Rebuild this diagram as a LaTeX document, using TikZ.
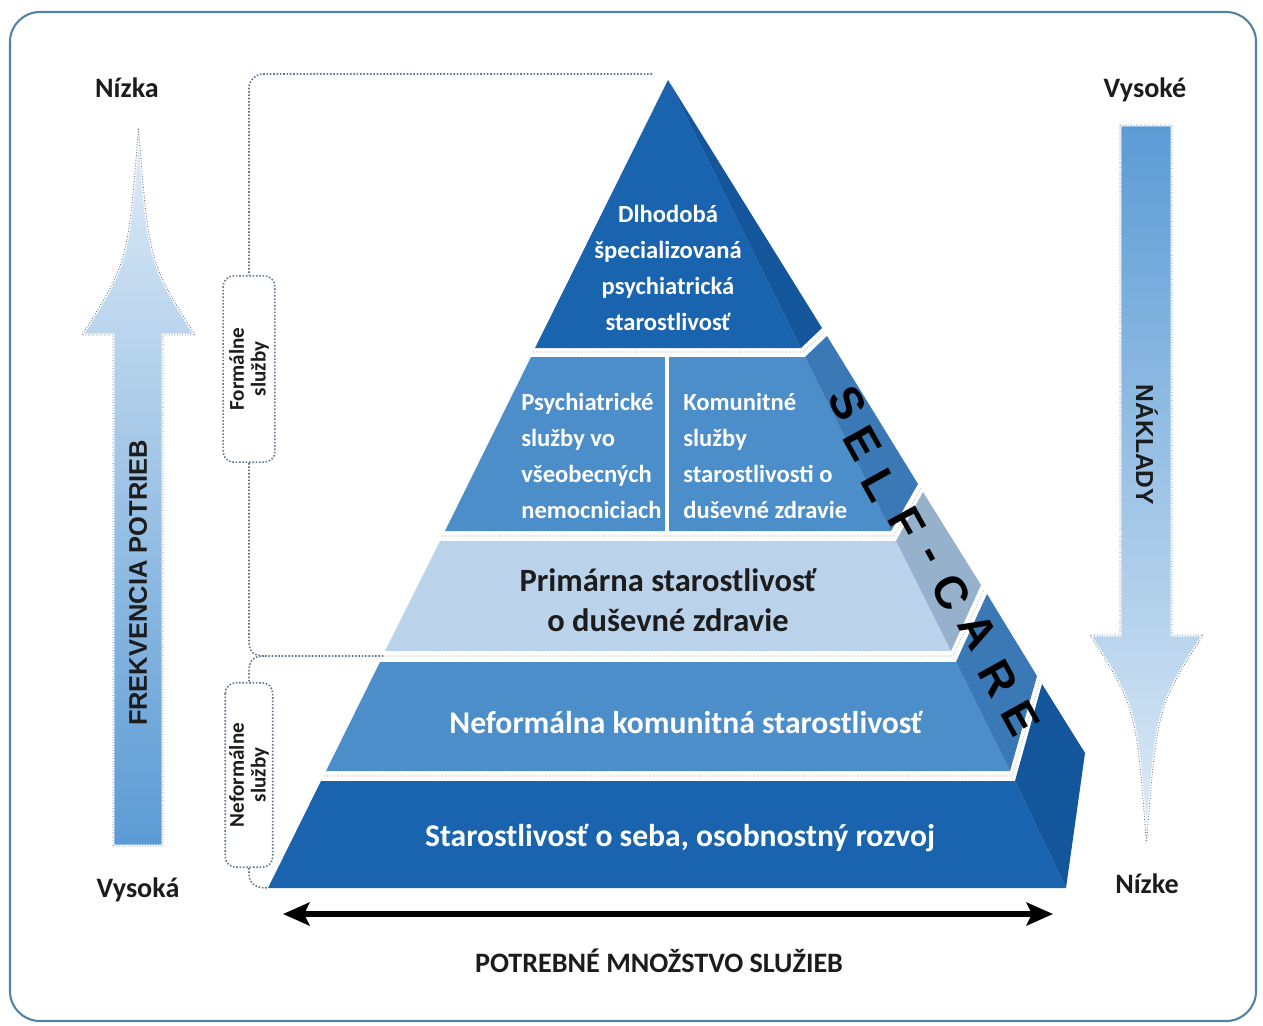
\documentclass[tikz,border=0pt]{standalone}
\usepackage{fontspec}
\setmainfont{Carlito}
\setsansfont{Liberation Sans}
\usetikzlibrary{arrows.meta}
\usetikzlibrary{backgrounds}
\definecolor{dk1}{RGB}{26,100,175}
\definecolor{dk2}{RGB}{19,86,156}
\definecolor{md1}{RGB}{76,142,202}
\definecolor{md2}{RGB}{58,120,182}
\definecolor{lt1}{RGB}{186,211,235}
\definecolor{lt2}{RGB}{150,177,204}
\definecolor{ar1}{RGB}{224,236,247}
\definecolor{ar2}{RGB}{91,155,213}
\definecolor{fr1}{RGB}{84,130,165}
\definecolor{br1}{RGB}{98,118,148}
\definecolor{tx1}{RGB}{28,28,28}

\begin{document}
\begin{tikzpicture}[
    x=0.02cm, y=-0.02cm,
    font=\bfseries,
    tw/.style={
        text=white, inner sep=0pt,
        font=\bfseries\fontsize{14}{20.4}\selectfont
    },
    tb/.style={
        inner sep=0pt, align=center,
        font=\bfseries\fontsize{18}{22.7}\selectfont
    },
    lab/.style={text=tx1, font=\bfseries\fontsize{16}{19}\selectfont},
    sc/.style={font=\sffamily\bfseries\fontsize{26}{26}\selectfont, rotate=-61, inner sep=0pt},
    br/.style={draw=br1, densely dotted, line width=0.9pt},
    bx/.style={
        br, fill=white, rounded corners=6pt, rotate=90, align=center,
        inner sep=1pt, text=tx1,
        font=\bfseries\fontsize{12}{12.5}\selectfont
    },
    blk/.style={
        draw=white, line width=1.5pt,
        postaction={draw=br1, densely dotted, line width=0.5pt}
    },
    gp/.style={draw=gray!45, densely dotted, line width=0.6pt}
]

    \useasboundingbox (0,0) rectangle (1263,1025);
    \draw [draw=fr1, line width=1.2pt, rounded corners=17pt] (10,12) rectangle (1256,1021);

    % pyramid, front faces and side faces
    \fill [dk1] (668,80) -- (535,348) -- (801,348) -- cycle;
    \fill [dk2] (668,80) -- (822,328) -- (801,348) -- cycle;
    \fill [md1] (531,357) -- (805,357) -- (891,531) -- (445,531) -- cycle;
    \fill [md2] (805,357) -- (827,336) -- (918,484) -- (891,531) -- cycle;
    \fill [lt1] (440,541) -- (896,541) -- (951,651) -- (385,651) -- cycle;
    \fill [lt2] (896,541) -- (923,492) -- (981,585) -- (951,651) -- cycle;
    \fill [md1] (380,662) -- (956,662) -- (1010,771) -- (326,771) -- cycle;
    \fill [md2] (956,662) -- (987,594) -- (1037,676) -- (1010,771) -- cycle;
    \fill [dk1] (321,781) -- (1015,781) -- (1066,888) -- (268,888) -- cycle;
    \fill [dk2] (1015,781) -- (1042,684) -- (1085,753) -- (1066,888) -- cycle;
    \draw [white, line width=2.8pt] (667,357) -- (667,531);

    \draw [gp] (533,352) -- (803,352) -- (824,332);
    \draw [gp] (442,536) -- (894,536) -- (921,488);
    \draw [gp] (383,656) -- (953,656) -- (984,590);
    \draw [gp] (324,776) -- (1012,776) -- (1040,680);

    \node [tw, align=center] (t1) at (668,268)
        {Dlhodobá\\špecializovaná\\psychiatrická\\starostlivosť};
    \node [tw, align=left, anchor=west] (t2a) at (521,456)
        {Psychiatrické\\služby vo\\všeobecných\\nemocniciach};
    \node [tw, align=left, anchor=west] (t2b) at (683,456)
        {Komunitné\\služby\\starostlivosti o\\duševné zdravie};
    \node [tb, text=tx1, font=\bfseries\fontsize{18.5}{22.7}\selectfont] (t3) at (668,600)
        {Primárna starostlivosť\\o duševné zdravie};
    \node [tb, text=white] (t4) at (686,722) {Neformálna komunitná starostlivosť};
    \node [tb, text=white] (t5) at (680,838) {Starostlivosť o seba, osobnostný rozvoj};

    \foreach \ch/\px/\py [count=\i] in {S/848/403, E/863/443, L/880/485, F/907/523,
        -/927/558, C/951/592, A/978/631, R/998/678, E/1021/718}
        \node [sc] (sc\i) at (\px,\py) {\ch};

    % block arrows
    \path [blk, top color=ar1, bottom color=ar2]
        (113,846) -- (113,335) -- (82,335) .. controls (128,262) .. (138.5,128)
        .. controls (149,262) .. (195,335) -- (163,335) -- (163,846) -- cycle;
    \path [blk, top color=ar2, bottom color=ar1]
        (1120,125) -- (1120,635) -- (1090,635) .. controls (1136,708) .. (1146.5,843)
        .. controls (1157,708) .. (1203,635) -- (1172,635) -- (1172,125) -- cycle;
    \node [text=tx1, rotate=90, font=\sffamily\bfseries\fontsize{14.5}{16}\selectfont] (fp) at (138,583)
        {FREKVENCIA POTRIEB};
    \node [text=tx1, rotate=-90, font=\sffamily\bfseries\fontsize{14}{16}\selectfont] (nk) at (1147,445)
        {NÁKLADY};

    \node [lab] (nz1) at (127,88) {Nízka};
    \node [lab] (vs1) at (138,890) {Vysoká};
    \node [lab] (vs2) at (1145,90) {Vysoké};
    \node [lab] (nz2) at (1147,884) {Nízke};

    % brackets
    \node [bx, minimum width=106pt, minimum height=29.5pt] (fb) at (249,369) {Formálne\\služby};
    \node [bx, minimum width=105pt, minimum height=27pt] (nb) at (249,775) {Neformálne\\služby};
    \coordinate (cusp) at (264,656);
    \draw [br, rounded corners=8pt] (652,74) -- (249,74) -- (fb.east);
    \draw [br] (fb.west) -- (249,641) .. controls (249,652) and (254,656) .. (cusp) -- (383,656);
    \draw [br] (cusp) .. controls (254,656) and (249,660) .. (249,671) -- (nb.east);
    \draw [br] (nb.west) -- (249,874) .. controls (249,884) and (256,888) .. (268,888);

    \coordinate (qL) at (283,914);
    \coordinate (qR) at (1053,914);
    \draw [line width=3.5pt, {Stealth[length=15pt,width=13pt,inset=3pt]}-{Stealth[length=15pt,width=13pt,inset=3pt]}] (qL) -- (qR);
    \node [text=tx1, font=\bfseries\fontsize{16}{18}\selectfont] (pm) at (659,961) {POTREBNÉ MNOŽSTVO SLUŽIEB};

\end{tikzpicture}
\end{document}
